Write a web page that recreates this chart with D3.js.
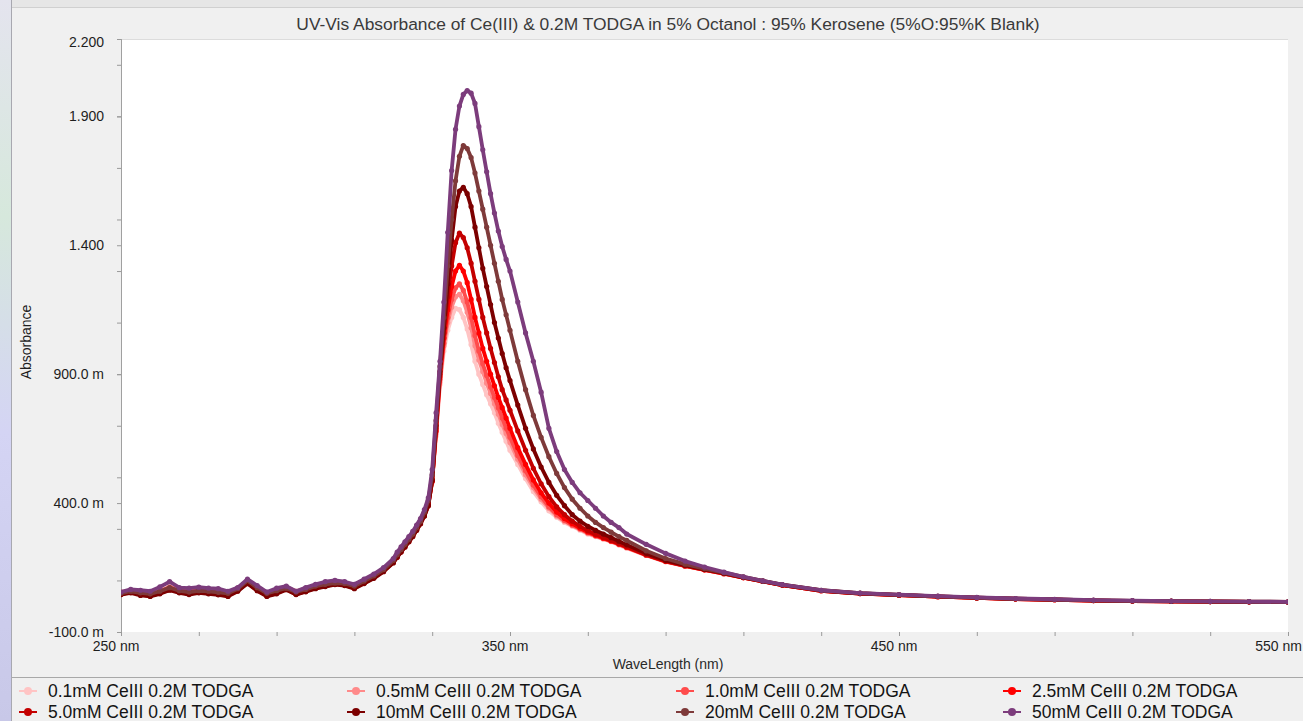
<!DOCTYPE html>
<html><head><meta charset="utf-8">
<script src="https://cdn.jsdelivr.net/npm/d3@7"></script>
<style>
html,body{margin:0;padding:0;background:#f0f0f0;}
svg{display:block;font-family:"Liberation Sans",Arial,sans-serif;}
</style></head>
<body>
<svg id="chart" width="1303" height="721"></svg>
<script>
const chartTitle = "UV-Vis Absorbance of Ce(III) & 0.2M TODGA in 5% Octanol : 95% Kerosene (5%O:95%K Blank)";
const xTitle = "WaveLength (nm)";
const yTitle = "Absorbance";
const xTickLabels = [250, 350, 450, 550];
const yTickLabels = [-0.1, 0.4, 0.9, 1.4, 1.9, 2.2];
const seriesNames = ["0.1mM CeIII 0.2M TODGA","0.5mM CeIII 0.2M TODGA","1.0mM CeIII 0.2M TODGA","2.5mM CeIII 0.2M TODGA",
                     "5.0mM CeIII 0.2M TODGA","10mM CeIII 0.2M TODGA","20mM CeIII 0.2M TODGA","50mM CeIII 0.2M TODGA"];
const seriesColors = ["#ffc4c4","#ff8a8a","#ff4c4c","#ff0000","#c40000","#7c0000","#7e3a3a","#7c3c7c"];

const wavelengths = [250,252.5,255,257.5,260,262.5,265,267.5,270,272.5,275,277.5,280,282.5,285,287.5,290,292.5,295,297.5,300,302.5,305,307.5,310,312.5,315,317.5,320,
 321,322,323,324,325,326,327,328,329,330,331,332,333,334,335,336,337,338,339,340,341,342,343,344,345,346,347,348,349,350,
 352,354,356,358,360,362,364,366,368,370,372,374,376,378,380,
 385,390,395,400,405,410,415,420,
 430,440,450,460,470,480,490,500,510,520,530,540,550];

const conc01 = [0.05,0.058,0.05,0.045,0.055,0.07,0.06,0.052,0.06,0.055,0.05,0.045,0.065,0.095,0.07,0.045,0.055,0.07,0.05,0.062,0.075,0.082,0.09,0.09,0.075,0.095,0.115,0.14,0.175,
 0.195,0.215,0.235,0.255,0.275,0.30,0.325,0.355,0.395,0.48,0.66,0.86,0.99,1.07,1.12,1.155,1.15,1.12,1.075,1.015,0.95,0.90,0.86,0.82,0.785,0.75,0.71,0.675,0.64,0.605,
 0.55,0.495,0.445,0.405,0.37,0.345,0.325,0.31,0.295,0.28,0.27,0.26,0.25,0.237,0.225,
 0.197,0.172,0.155,0.14,0.125,0.11,0.096,0.082,
 0.060,0.05,0.044,0.038,0.033,0.029,0.026,0.023,0.021,0.02,0.019,0.018,0.017];
const conc05 = [0.055,0.06,0.055,0.048,0.06,0.075,0.065,0.055,0.062,0.06,0.052,0.048,0.068,0.1,0.072,0.05,0.06,0.072,0.055,0.065,0.078,0.085,0.092,0.088,0.078,0.098,0.118,0.142,0.178,
 0.20,0.22,0.24,0.26,0.28,0.305,0.33,0.36,0.40,0.49,0.67,0.87,1.01,1.10,1.16,1.20,1.21,1.185,1.14,1.08,1.01,0.955,0.91,0.865,0.825,0.785,0.745,0.705,0.67,0.635,
 0.57,0.51,0.46,0.415,0.38,0.35,0.33,0.313,0.298,0.283,0.272,0.262,0.251,0.239,0.227,
 0.198,0.173,0.156,0.141,0.126,0.111,0.096,0.082,
 0.061,0.05,0.043,0.037,0.032,0.028,0.025,0.022,0.02,0.019,0.018,0.017,0.016];
const conc10 = [0.045,0.055,0.052,0.05,0.058,0.072,0.062,0.058,0.065,0.058,0.055,0.05,0.07,0.098,0.068,0.048,0.058,0.075,0.058,0.068,0.08,0.088,0.095,0.092,0.08,0.1,0.12,0.145,0.18,
 0.20,0.22,0.24,0.26,0.28,0.305,0.33,0.36,0.40,0.49,0.68,0.88,1.02,1.12,1.19,1.235,1.25,1.225,1.18,1.12,1.05,0.99,0.94,0.895,0.85,0.81,0.77,0.73,0.69,0.655,
 0.585,0.525,0.47,0.425,0.385,0.355,0.333,0.315,0.30,0.285,0.273,0.263,0.252,0.24,0.228,
 0.199,0.174,0.156,0.141,0.126,0.111,0.096,0.082,
 0.06,0.049,0.043,0.037,0.032,0.028,0.025,0.022,0.02,0.019,0.018,0.017,0.016];
const conc25 = [0.052,0.062,0.048,0.042,0.052,0.068,0.058,0.05,0.058,0.052,0.048,0.042,0.062,0.092,0.065,0.042,0.052,0.068,0.048,0.06,0.072,0.08,0.088,0.085,0.072,0.092,0.112,0.138,0.172,
 0.195,0.215,0.235,0.255,0.275,0.30,0.325,0.355,0.395,0.485,0.68,0.89,1.04,1.15,1.24,1.30,1.322,1.30,1.255,1.19,1.12,1.06,1.0,0.95,0.90,0.855,0.81,0.77,0.73,0.69,
 0.615,0.55,0.49,0.44,0.40,0.365,0.34,0.32,0.303,0.288,0.275,0.264,0.253,0.241,0.229,
 0.199,0.174,0.156,0.141,0.126,0.111,0.096,0.082,
 0.06,0.049,0.043,0.037,0.032,0.028,0.025,0.022,0.02,0.019,0.018,0.017,0.016];
const conc50 = [0.048,0.055,0.045,0.04,0.05,0.065,0.055,0.048,0.055,0.05,0.046,0.04,0.06,0.09,0.062,0.04,0.05,0.066,0.046,0.058,0.07,0.078,0.086,0.082,0.07,0.09,0.11,0.136,0.17,
 0.19,0.21,0.23,0.25,0.27,0.295,0.32,0.35,0.39,0.485,0.69,0.90,1.06,1.20,1.32,1.41,1.447,1.43,1.39,1.33,1.26,1.19,1.12,1.06,1.0,0.945,0.89,0.84,0.80,0.76,
 0.68,0.605,0.535,0.475,0.425,0.385,0.355,0.33,0.31,0.293,0.279,0.267,0.255,0.243,0.231,
 0.20,0.175,0.157,0.142,0.127,0.111,0.096,0.082,
 0.06,0.049,0.043,0.037,0.032,0.028,0.025,0.022,0.02,0.019,0.018,0.017,0.016];
const conc100 = [0.045,0.052,0.042,0.038,0.048,0.062,0.052,0.045,0.052,0.048,0.044,0.038,0.058,0.088,0.06,0.038,0.048,0.064,0.045,0.056,0.068,0.076,0.084,0.08,0.068,0.088,0.108,0.134,0.168,
 0.19,0.21,0.23,0.25,0.27,0.295,0.32,0.35,0.39,0.49,0.70,0.91,1.08,1.25,1.42,1.55,1.61,1.625,1.60,1.55,1.47,1.39,1.31,1.24,1.17,1.10,1.04,0.98,0.925,0.875,
 0.78,0.69,0.61,0.54,0.48,0.43,0.39,0.355,0.33,0.31,0.294,0.28,0.266,0.252,0.238,
 0.205,0.178,0.159,0.143,0.128,0.112,0.097,0.083,
 0.061,0.05,0.044,0.038,0.033,0.029,0.026,0.023,0.021,0.019,0.018,0.017,0.016];
const conc200 = [0.05,0.058,0.052,0.048,0.058,0.072,0.06,0.055,0.06,0.058,0.054,0.05,0.068,0.1,0.072,0.05,0.06,0.07,0.055,0.065,0.078,0.085,0.09,0.088,0.078,0.098,0.118,0.142,0.178,
 0.20,0.22,0.24,0.26,0.28,0.305,0.33,0.365,0.41,0.51,0.72,0.93,1.12,1.32,1.50,1.65,1.745,1.787,1.775,1.74,1.68,1.61,1.54,1.47,1.40,1.33,1.26,1.19,1.13,1.07,
 0.95,0.84,0.74,0.655,0.58,0.515,0.46,0.415,0.38,0.35,0.325,0.305,0.287,0.27,0.255,
 0.215,0.185,0.163,0.146,0.13,0.114,0.098,0.084,
 0.062,0.051,0.044,0.038,0.033,0.029,0.026,0.023,0.021,0.02,0.019,0.018,0.017];
const conc500 = [0.055,0.065,0.062,0.058,0.075,0.095,0.072,0.07,0.074,0.07,0.068,0.058,0.072,0.105,0.08,0.055,0.07,0.078,0.058,0.072,0.085,0.095,0.1,0.095,0.085,0.105,0.125,0.15,0.185,
 0.21,0.23,0.25,0.27,0.29,0.315,0.34,0.375,0.42,0.53,0.75,0.95,1.18,1.45,1.69,1.85,1.94,1.985,2.0,1.99,1.95,1.86,1.77,1.685,1.60,1.525,1.455,1.395,1.345,1.30,
 1.18,1.06,0.95,0.83,0.69,0.60,0.53,0.48,0.44,0.41,0.38,0.35,0.325,0.305,0.28,
 0.24,0.205,0.175,0.152,0.132,0.114,0.098,0.084,
 0.062,0.051,0.045,0.039,0.034,0.03,0.027,0.024,0.022,0.02,0.019,0.018,0.017];

const seriesValues = [conc01, conc05, conc10, conc25, conc50, conc100, conc200, conc500];

const svg = d3.select("#chart");
const W = 1303, H = 721;
const plot = {left:121, right:1288, top:39, bottom:632};

const defs = svg.append("defs");
const grad = defs.append("linearGradient").attr("id","edge").attr("x1",0).attr("y1",0).attr("x2",0).attr("y2",1);
grad.append("stop").attr("offset","0%").attr("stop-color","#e4e4ee");
grad.append("stop").attr("offset","30%").attr("stop-color","#d6e8dc");
grad.append("stop").attr("offset","60%").attr("stop-color","#d4d4f4");
grad.append("stop").attr("offset","100%").attr("stop-color","#c8c8e8");
defs.append("clipPath").attr("id","clip").append("rect")
  .attr("x",plot.left).attr("y",plot.top).attr("width",plot.right-plot.left).attr("height",plot.bottom-plot.top);

svg.append("rect").attr("width",W).attr("height",H).attr("fill","#f0f0f0");
svg.append("rect").attr("x",0).attr("y",0).attr("width",11).attr("height",H).attr("fill","url(#edge)");
svg.append("line").attr("x1",11.5).attr("x2",11.5).attr("y1",0).attr("y2",H).attr("stroke","#a8a8b0");
svg.append("rect").attr("x",12).attr("y",0).attr("width",W-12).attr("height",7).attr("fill","#e6e6e6");
svg.append("line").attr("x1",12).attr("x2",W).attr("y1",7.5).attr("y2",7.5).attr("stroke","#d0d0d0");

const x = d3.scaleLinear().domain([250,550]).range([plot.left, plot.right]);
const y = d3.scaleLinear().domain([-0.1,2.2]).range([plot.bottom, plot.top]);

svg.append("rect").attr("x",plot.left).attr("y",plot.top).attr("width",plot.right-plot.left).attr("height",plot.bottom-plot.top).attr("fill","#ffffff");
svg.append("line").attr("x1",plot.left).attr("x2",plot.right).attr("y1",plot.top+0.5).attr("y2",plot.top+0.5).attr("stroke","#dcdcdc");

// title
svg.append("text").attr("x",668).attr("y",30).attr("text-anchor","middle")
  .attr("font-size",17.4).attr("fill","#3a3a3a").text(chartTitle);

// x axis
const xMinor = d3.range(250, 551, 20);
const xAxis = d3.axisBottom(x).tickValues(xMinor).tickSize(4).tickFormat("");
const gx = svg.append("g").attr("transform",`translate(0,${plot.bottom})`).call(xAxis);
gx.select(".domain").remove();
gx.selectAll(".tick line").attr("stroke","#9a9a9a");
svg.selectAll(".xlab").data(xTickLabels).join("text").attr("class","xlab")
  .attr("x",(d,i)=> i===xTickLabels.length-1 ? 1302 : x(d)-5).attr("y",651)
  .attr("text-anchor",(d,i)=> i===xTickLabels.length-1 ? "end" : "middle").attr("font-size",14).attr("fill","#1e1e1e")
  .text(d=>d+" nm");
svg.append("text").attr("x",668).attr("y",669).attr("text-anchor","middle").attr("font-size",14).attr("fill","#2a2a2a").text(xTitle);

// y axis
const yMinor = d3.range(-0.1, 2.2, 0.2).concat(yTickLabels);
const yAxis = d3.axisLeft(y).tickValues(yMinor).tickSize(4).tickFormat("");
const gy = svg.append("g").attr("transform",`translate(${plot.left},0)`).call(yAxis);
gy.select(".domain").attr("stroke","#a0a0a0").attr("d",`M0.5,${plot.top}V${plot.bottom}`);
gy.selectAll(".tick line").attr("stroke","#9a9a9a");
const yFmt = v => v >= 1 ? v.toFixed(3) : (v*1000).toFixed(1) + " m";
svg.selectAll(".ylab").data(yTickLabels).join("text").attr("class","ylab")
  .attr("x",104).attr("y",d=>y(d)+ (d>2 ? 8 : 5)).attr("text-anchor","end").attr("font-size",14).attr("fill","#1e1e1e")
  .text(yFmt);
svg.append("text").attr("transform","translate(31,342) rotate(-90)").attr("text-anchor","middle")
  .attr("font-size",14).attr("fill","#1e1e1e").text(yTitle);

// series
const line = d3.line().x((d,i)=>x(wavelengths[i])).y(d=>y(d));
const gs = svg.append("g").attr("clip-path","url(#clip)");
seriesValues.forEach((vals, k) => {
  const g = gs.append("g");
  g.append("path").attr("d", line(vals)).attr("fill","none").attr("stroke",seriesColors[k])
    .attr("stroke-width",3.8).attr("stroke-linejoin","round").attr("stroke-linecap","round");
  g.selectAll("circle").data(vals).join("circle")
    .attr("cx",(d,i)=>x(wavelengths[i])).attr("cy",d=>y(d)).attr("r",2.6).attr("fill",seriesColors[k]);
});

// legend
svg.append("line").attr("x1",12).attr("x2",W).attr("y1",677.5).attr("y2",677.5).attr("stroke","#a8a8a8");
const legX = [28, 356, 685, 1012];
const legY = [691, 712];
const leg = svg.selectAll(".leg").data(seriesNames).join("g").attr("class","leg")
  .attr("transform",(d,i)=>`translate(${legX[i%4]},${legY[Math.floor(i/4)]})`);
leg.append("line").attr("x1",-9).attr("x2",9).attr("stroke",(d,i)=>seriesColors[i]).attr("stroke-width",2);
leg.append("circle").attr("r",4).attr("fill",(d,i)=>seriesColors[i]);
leg.append("text").attr("x",20).attr("y",6).attr("font-size",17.5).attr("fill","#141414").text(d=>d);
</script>
</body></html>
